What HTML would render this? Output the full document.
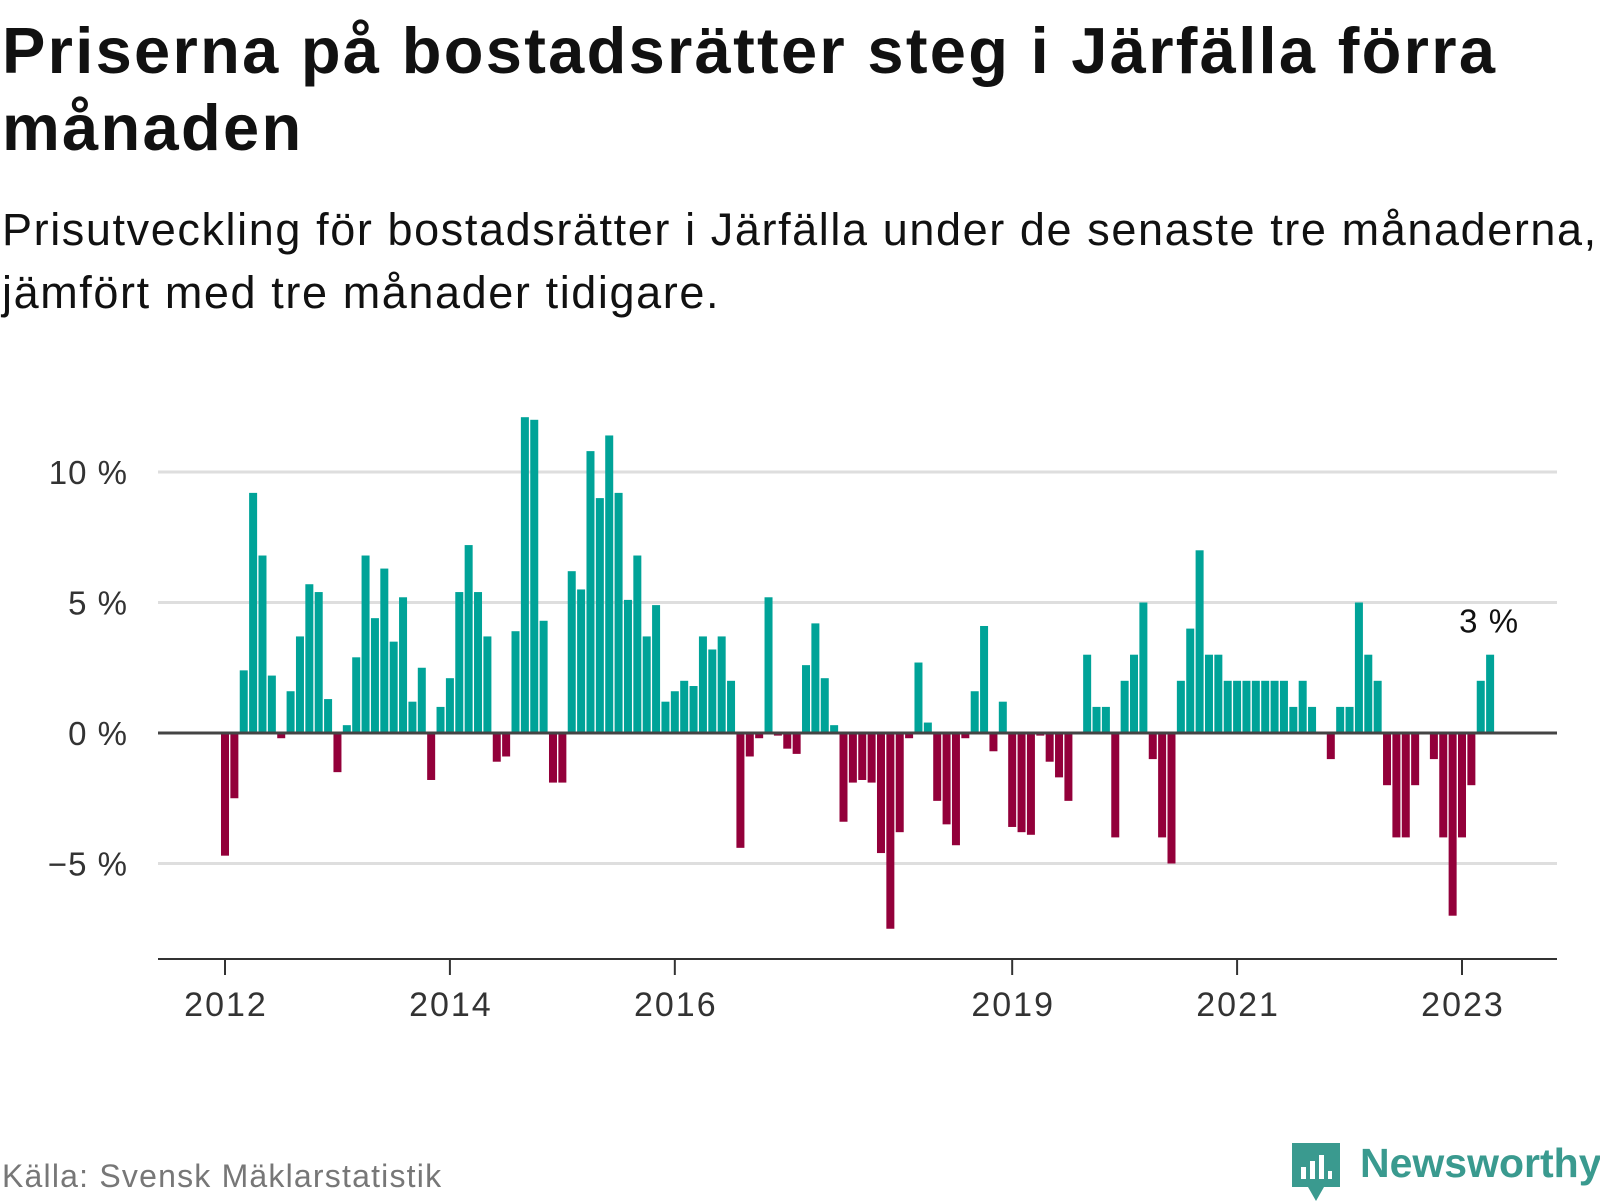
<!DOCTYPE html>
<html><head><meta charset="utf-8">
<style>
html,body{margin:0;padding:0;background:#fff;}
body{width:1600px;height:1200px;position:relative;overflow:hidden;font-family:"Liberation Sans",sans-serif;color:#111;}
#title{position:absolute;left:2px;top:12px;font-size:65px;font-weight:bold;line-height:77px;margin:0;letter-spacing:2.3px;}
#subtitle{position:absolute;left:2px;top:198px;font-size:45px;line-height:63px;margin:0;letter-spacing:1.6px;}
#source{position:absolute;left:2px;top:1158px;font-size:32px;color:#777;letter-spacing:1.2px;}
#brand{position:absolute;left:1360px;top:1140px;font-size:41px;font-weight:bold;color:#3a9a8f;}
</style></head><body>
<h1 id="title">Priserna på bostadsrätter steg i Järfälla förra<br>månaden</h1>
<p id="subtitle">Prisutveckling för bostadsrätter i Järfälla under de senaste tre månaderna,<br>jämfört med tre månader tidigare.</p>
<svg id="chart" width="1600" height="1200" style="position:absolute;left:0;top:0" xmlns="http://www.w3.org/2000/svg"></svg>
<div id="source">Källa: Svensk Mäklarstatistik</div>
<svg style="position:absolute;left:1292px;top:1143px" width="48" height="58" viewBox="0 0 48 58">
<path d="M0 0H48V44H32L24 58L16 44H0Z" fill="#3a9a8f"/>
<rect x="9" y="24" width="5" height="12" fill="#fff"/><rect x="18" y="18" width="5" height="18" fill="#fff"/><rect x="27" y="12" width="5" height="24" fill="#fff"/><rect x="36" y="28" width="4" height="8" fill="#fff"/>
</svg>
<div id="brand">Newsworthy</div>
<script>
const values = [-4.7,-2.5,2.4,9.2,6.8,2.2,-0.2,1.6,3.7,5.7,5.4,1.3,
-1.5,0.3,2.9,6.8,4.4,6.3,3.5,5.2,1.2,2.5,-1.8,1.0,
2.1,5.4,7.2,5.4,3.7,-1.1,-0.9,3.9,12.1,12.0,4.3,-1.9,
-1.9,6.2,5.5,10.8,9.0,11.4,9.2,5.1,6.8,3.7,4.9,1.2,
1.6,2.0,1.8,3.7,3.2,3.7,2.0,-4.4,-0.9,-0.2,5.2,-0.1,
-0.6,-0.8,2.6,4.2,2.1,0.3,-3.4,-1.9,-1.8,-1.9,-4.6,-7.5,
-3.8,-0.2,2.7,0.4,-2.6,-3.5,-4.3,-0.2,1.6,4.1,-0.7,
1.2,-3.6,-3.8,-3.9,-0.1,-1.1,-1.7,-2.6,0,3.0,1.0,1.0,
-4.0,2.0,3.0,5.0,-1.0,-4.0,-5.0,2.0,4.0,7.0,3.0,3.0,
2,2,2,2,2,2,2,1,2,1,0,-1,
1,1,5,3,2,-2,-4,-4,-2,0,-1,-4,
-7,-4,-2,2,3];
const yTicks = [-5,0,5,10];
const yTickLabels = ["\u22125 %","0 %","5 %","10 %"];
const xTickMonths = [0,24,48,84,108,132];
const xTickLabels = ["2012","2014","2016","2019","2021","2023"];
const lastLabel = "3 %";

const svg = document.getElementById('chart');
const NS = 'http://www.w3.org/2000/svg';
const x0 = 225, monthW = (1462-225)/132;
const zeroY = 733, pxPer = 26.1;
const xScale = i => x0 + i*monthW;
const yScale = v => zeroY - v*pxPer;
const left = 158, right = 1557, axisY = 959;
function mk(tag, attrs){const e=document.createElementNS(NS,tag);for(const k in attrs)e.setAttribute(k,attrs[k]);svg.appendChild(e);return e;}

yTicks.forEach((t,k)=>{
  if(t!==0){
    const g=mk('line',{x1:left,x2:right,y1:yScale(t),y2:yScale(t),stroke:'#dedede','stroke-width':3});
    
    
  }
  const lb=mk('text',{x:128,y:yScale(t)+12,'text-anchor':'end','font-size':33,'letter-spacing':1,fill:'#333','font-family':'Liberation Sans, sans-serif'});
  lb.textContent=yTickLabels[k];
  
  
});
values.forEach((v,i)=>{
  if(v===0) return;
  const y=v>0?yScale(v):zeroY;
  const r=mk('rect',{x:xScale(i)-4,y:y,width:8,height:Math.abs(v)*pxPer,fill:v>0?'#00a398':'#93003a'});
  
  
});
const zl=mk('line',{x1:left,x2:right,y1:zeroY,y2:zeroY,stroke:'#444','stroke-width':3});


const ax=mk('line',{x1:left,x2:right,y1:axisY,y2:axisY,stroke:'#333','stroke-width':2});


xTickMonths.forEach((m,k)=>{
  const t=mk('line',{x1:xScale(m),x2:xScale(m),y1:axisY,y2:axisY+16,stroke:'#333','stroke-width':2});
  
  
  const lb=mk('text',{x:xScale(m)+1,y:1016,'text-anchor':'middle','font-size':34,'letter-spacing':2,fill:'#333','font-family':'Liberation Sans, sans-serif'});
  lb.textContent=xTickLabels[k];
  
  
});
const li=values.length-1;
const ll=mk('text',{x:xScale(li)-1,y:yScale(values[li])-22,'text-anchor':'middle','font-size':33,'letter-spacing':1,fill:'#111','font-family':'Liberation Sans, sans-serif'});
ll.textContent=lastLabel;


</script>
</body></html>
